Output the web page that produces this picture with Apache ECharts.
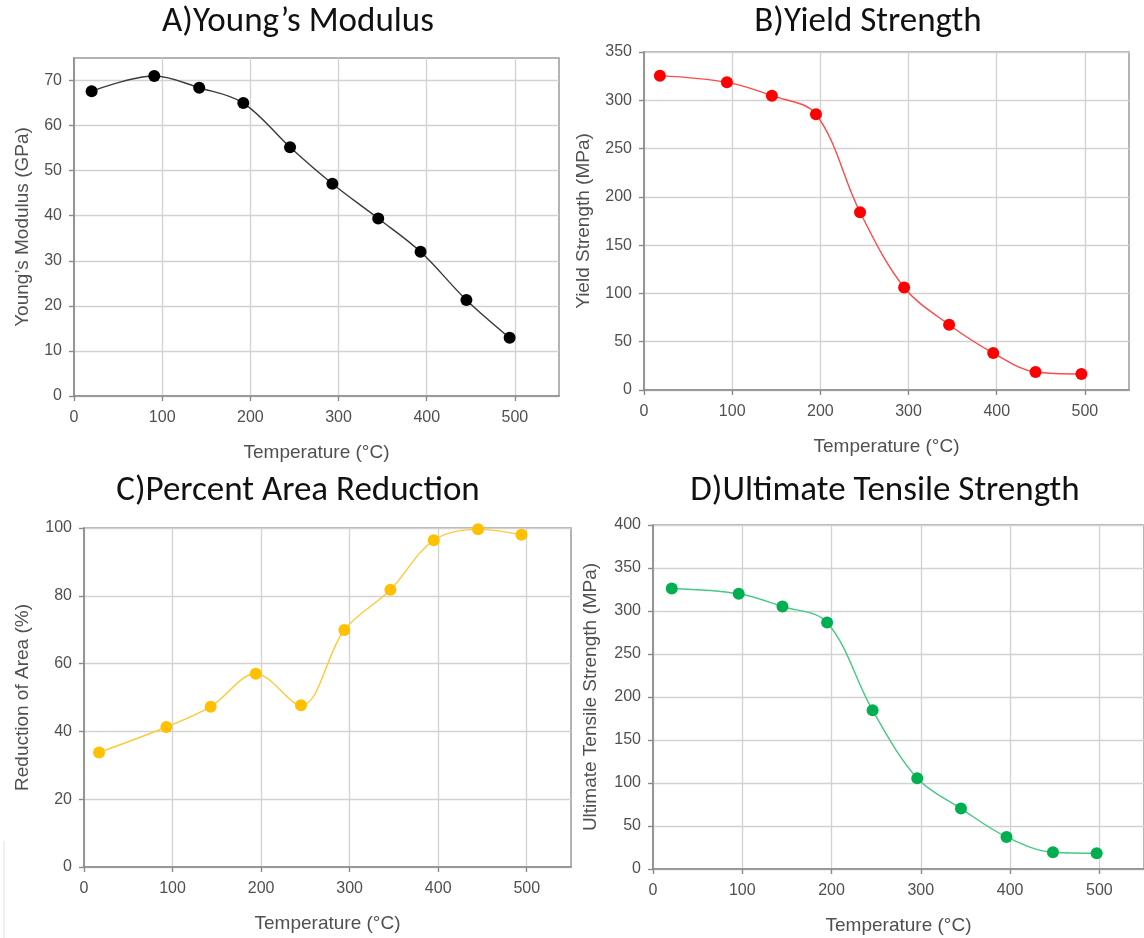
<!DOCTYPE html>
<html>
<head>
<meta charset="utf-8">
<script src="https://cdn.jsdelivr.net/npm/echarts@6/dist/echarts.min.js"></script>
<style>
  html, body { margin: 0; padding: 0; background: #ffffff; }
  #chart { width: 1144px; height: 938px; }
</style>
</head>
<body>
<div id="chart"></div>
<script>
// Test temperatures (°C) and measured properties for each panel
const tempA = [20, 91, 142, 192, 245, 293, 345, 393, 445, 494];
const modulusGPa = [67.6, 71.0, 68.4, 65.0, 55.2, 47.1, 39.4, 32.0, 21.3, 12.9];

const tempB = [18, 94, 145, 195, 245, 295, 346, 396, 444, 496];
const yieldMPa = [325.5, 318.6, 304.8, 285.5, 184.1, 106.2, 67.6, 38.3, 18.6, 16.6];

const tempC = [17, 93, 143, 194, 245, 294, 346, 395, 445, 494];
const areaReductionPct = [33.8, 41.3, 47.3, 57.0, 47.7, 69.9, 81.8, 96.4, 99.6, 98.0];

const tempD = [21, 96, 145, 195, 246, 296, 345, 396, 448, 497];
const utsMPa = [326.2, 320.0, 305.2, 286.6, 184.5, 105.6, 70.3, 37.3, 19.4, 18.3];

// Tick labels
const tempTicks = [0, 100, 200, 300, 400, 500];
const modulusTicks = [0, 10, 20, 30, 40, 50, 60, 70];
const yieldTicks = [0, 50, 100, 150, 200, 250, 300, 350];
const areaTicks = [0, 20, 40, 60, 80, 100];
const utsTicks = [0, 50, 100, 150, 200, 250, 300, 350, 400];

const panelTitles = ['A)Young’s Modulus', 'B)Yield Strength', 'C)Percent Area Reduction', 'D)Ultimate Tensile Strength'];
const yNames = ['Young’s Modulus (GPa)', 'Yield Strength (MPa)', 'Reduction of Area (%)', 'Ultimate Tensile Strength (MPa)'];
const xName = 'Temperature (°C)';

const LABEL_FONT = '"Liberation Sans", Arial, sans-serif';
const TITLE_FONT = 'Carlito, Lato, sans-serif';

const panels = [
  { grid: { left: 74, top: 58, width: 485, height: 338 }, yMax: 75, yStep: 10, yTicks: modulusTicks, yGap: 42,
    x: tempA, y: modulusGPa, line: '#3a3a3a', dot: '#000000', tx: 298, ty: 22 },
  { grid: { left: 644, top: 52, width: 485, height: 338 }, yMax: 350, yStep: 50, yTicks: yieldTicks, yGap: 51,
    x: tempB, y: yieldMPa, line: '#ff4a4a', dot: '#ff0000', tx: 868, ty: 22 },
  { grid: { left: 84, top: 528, width: 487, height: 339 }, yMax: 100, yStep: 20, yTicks: areaTicks, yGap: 52,
    x: tempC, y: areaReductionPct, line: '#ffc93a', dot: '#ffc000', tx: 298, ty: 491 },
  { grid: { left: 653, top: 525, width: 493, height: 344 }, yMax: 400, yStep: 50, yTicks: utsTicks, yGap: 53,
    x: tempD, y: utsMPa, line: '#45c984', dot: '#00b050', tx: 885, ty: 491 }
];

const axisColor = '#8a8a8a';
const gridLineColor = '#d2d2d2';
const textColor = '#505050';

const option = {
  animation: false,
  backgroundColor: '#ffffff',
  grid: panels.map(p => Object.assign({ show: true, borderColor: '#9a9a9a', borderWidth: 1.5, backgroundColor: 'transparent' }, p.grid)),
  xAxis: panels.map((p, i) => ({
    type: 'value', gridIndex: i, min: 0, max: 550, interval: 100,
    name: xName, nameLocation: 'middle', nameGap: 47,
    nameTextStyle: { fontSize: 19, color: textColor, fontFamily: LABEL_FONT },
    axisLine: { show: true, onZero: false, lineStyle: { color: axisColor, width: 1.6 } },
    axisTick: { show: true, inside: false, length: 5, customValues: tempTicks, lineStyle: { color: axisColor, width: 1.4 } },
    axisLabel: { customValues: tempTicks, margin: 14, fontSize: 16, color: textColor, fontFamily: LABEL_FONT },
    splitLine: { show: true, lineStyle: { color: gridLineColor, width: 1.3 } }
  })),
  yAxis: panels.map((p, i) => ({
    type: 'value', gridIndex: i, min: 0, max: p.yMax, interval: p.yStep,
    name: yNames[i], nameLocation: 'middle', nameGap: p.yGap,
    nameTextStyle: { fontSize: 19, color: textColor, fontFamily: LABEL_FONT },
    axisLine: { show: true, onZero: false, lineStyle: { color: axisColor, width: 1.6 } },
    axisTick: { show: true, inside: false, length: 5, customValues: p.yTicks, lineStyle: { color: axisColor, width: 1.4 } },
    axisLabel: { customValues: p.yTicks, margin: 12, fontSize: 16, color: textColor, fontFamily: LABEL_FONT },
    splitLine: { show: true, lineStyle: { color: gridLineColor, width: 1.3 } }
  })),
  series: panels.map((p, i) => ({
    type: 'line', xAxisIndex: i, yAxisIndex: i,
    data: p.x.map((t, j) => [t, p.y[j]]),
    smooth: 0.35,
    symbol: 'circle', symbolSize: 12,
    itemStyle: { color: p.dot },
    lineStyle: { color: p.line, width: 1.4 },
    z: 3
  })),
  graphic: panels.map((p, i) => ({
    type: 'text', x: p.tx, y: p.ty,
    style: { text: panelTitles[i], fill: '#111111', font: '35px ' + TITLE_FONT, textAlign: 'center', textVerticalAlign: 'middle' }
  })).concat([
    { type: 'line', shape: { x1: 4, y1: 841, x2: 4, y2: 938 }, style: { stroke: '#e2e2e2', lineWidth: 1 } }
  ])
};

const chart = echarts.init(document.getElementById('chart'), null, { renderer: 'canvas' });
chart.setOption(option);
</script>
</body>
</html>
